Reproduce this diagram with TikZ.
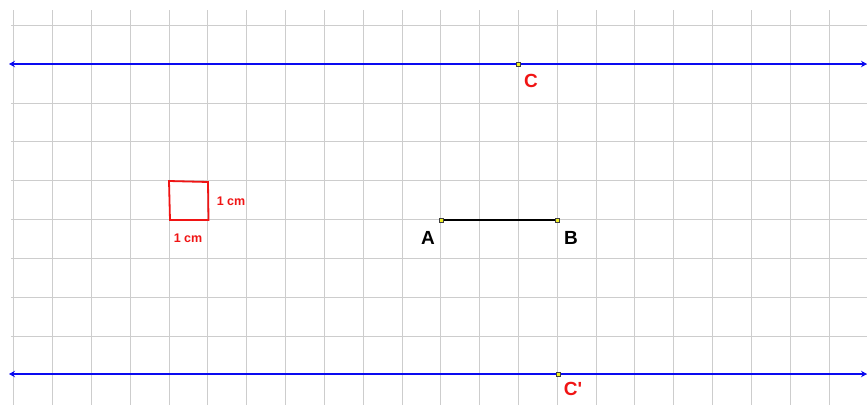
\documentclass[tikz,border=0pt]{standalone}
\usepackage{fontspec}
\setmainfont{Liberation Sans}
\usetikzlibrary{arrows.meta}
\definecolor{gridgray}{RGB}{205,205,205}
\definecolor{lineblue}{RGB}{10,10,240}
\definecolor{ptred}{RGB}{240,20,20}
\definecolor{ptyellow}{RGB}{240,240,40}
\tikzset{
  gridline/.style={gridgray, line width=1pt},
  parline/.style={lineblue, line width=2.4pt, {Stealth[length=6pt,width=6.5pt]}-{Stealth[length=6pt,width=6.5pt]}},
  pt/.style={rectangle, fill=ptyellow, draw=black!75, line width=0.6pt, inner sep=0pt, minimum size=4pt},
  biglabel/.style={font=\bfseries\fontsize{19}{19}\selectfont, inner sep=0pt},
  smalllabel/.style={font=\bfseries\fontsize{12.5}{12.5}\selectfont, inner sep=0pt, text=ptred},
}
\begin{document}
\begin{tikzpicture}[x=1pt,y=-1pt]
\useasboundingbox (0,0) rectangle (867,405);
\fill[white] (0,0) rectangle (867,405);
% grid
\begin{scope}
\clip (11,10) rectangle (867,405);
\foreach \k in {0,...,22} {
  \draw[gridline] ({13.7+38.83*\k},10) -- ({13.7+38.83*\k},405);
}
\foreach \k in {0,...,9} {
  \draw[gridline] (11,{25.5+38.83*\k}) -- (867,{25.5+38.83*\k});
}
\end{scope}
% red square
\coordinate (s1) at (169,181);
\coordinate (s2) at (208,182);
\coordinate (s3) at (208.5,220);
\coordinate (s4) at (170,220);
\draw[ptred, line width=1.8pt, line join=miter] (s1) -- (s2) -- (s3) -- (s4) -- cycle;
\node[smalllabel] (cm1) at (231,201) {1 cm};
\node[smalllabel] (cm2) at (188,238) {1 cm};
% blue lines
\coordinate (L1) at (9,64);
\coordinate (R1) at (867,64);
\coordinate (L2) at (9,374);
\coordinate (R2) at (867,374);
\draw[parline] (L1) -- (R1);
\draw[parline] (L2) -- (R2);
% segment AB
\coordinate (A) at (441,220);
\coordinate (B) at (557.5,220);
\draw[black, line width=1.7pt] (A) -- (B);
\node[pt] (pA) at (A) {};
\node[pt] (pB) at (B) {};
\node[pt] (pC) at (518.5,64) {};
\node[pt] (pC2) at (558,374) {};
% labels
\node[biglabel] (lA) at (428,238) {A};
\node[biglabel] (lB) at (571,238) {B};
\node[biglabel, text=ptred] (lC) at (531,81) {C};
\node[biglabel, text=ptred] (lC2) at (573,389) {C\textquotesingle};
\end{tikzpicture}
\end{document}
